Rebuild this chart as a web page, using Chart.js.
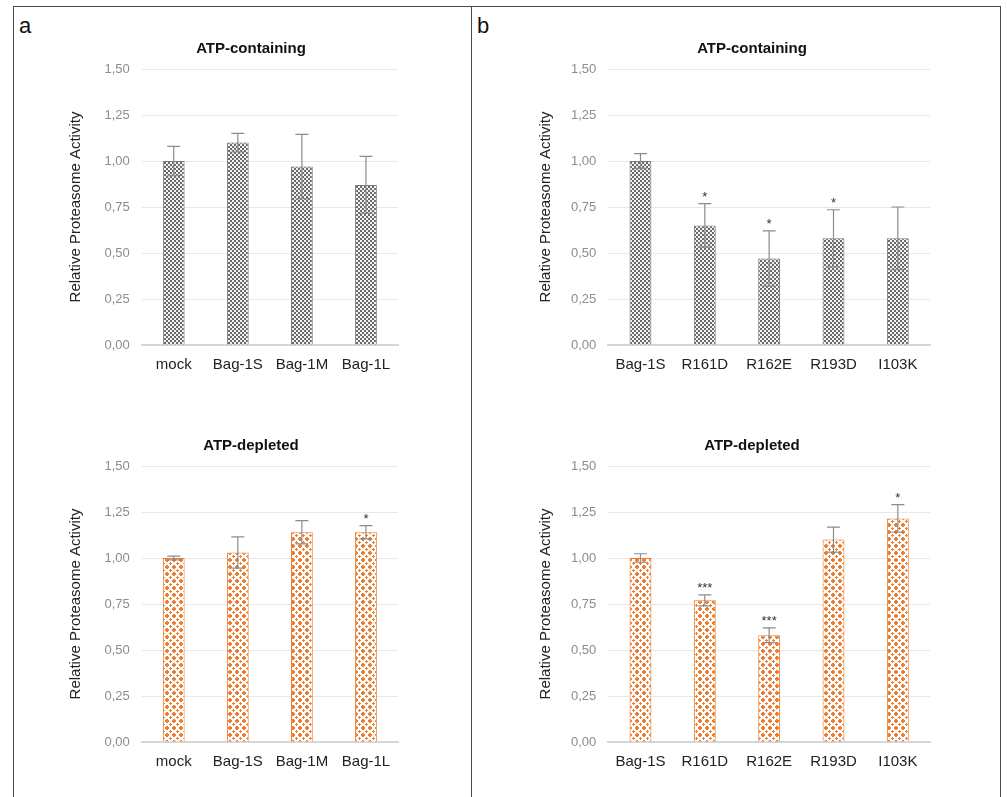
<!DOCTYPE html>
<html>
<head>
<meta charset="utf-8">
<script src="https://cdn.jsdelivr.net/npm/chart.js@4.4.1/dist/chart.umd.min.js"></script>
<style>
  body { margin: 0; background: #fff; width: 1007px; height: 797px; position: relative; overflow: hidden; font-family: "Liberation Sans", Arial, sans-serif; }
  canvas { position: absolute; }
  .rule { position: absolute; background: #4a4a4a; }
  .tag { position: absolute; font-size: 22px; line-height: 25px; color: #111; }
</style>
</head>
<body>
<div class="rule" style="left:13px;top:6px;width:988px;height:1px"></div>
<div class="rule" style="left:13px;top:6px;width:1px;height:791px"></div>
<div class="rule" style="left:1000px;top:6px;width:1px;height:791px"></div>
<div class="rule" style="left:471px;top:6px;width:1px;height:791px"></div>
<div class="tag" style="left:19px;top:13px">a</div>
<div class="tag" style="left:477px;top:13px">b</div>

<canvas id="aTop" width="400" height="360" style="left:20px;top:30px"></canvas>
<canvas id="aBottom" width="400" height="360" style="left:20px;top:427px"></canvas>
<canvas id="bTop" width="480" height="360" style="left:490px;top:30px"></canvas>
<canvas id="bBottom" width="480" height="360" style="left:490px;top:427px"></canvas>

<script>
const catsA = ['mock', 'Bag-1S', 'Bag-1M', 'Bag-1L'];
const catsB = ['Bag-1S', 'R161D', 'R162E', 'R193D', 'I103K'];

const aContaining = [1.00, 1.10, 0.97, 0.87];
const aContainingErr = [0.08, 0.05, 0.175, 0.155];
const aContainingStars = ['', '', '', ''];

const aDepleted = [1.00, 1.03, 1.14, 1.14];
const aDepletedErr = [0.01, 0.085, 0.063, 0.036];
const aDepletedStars = ['', '', '', '*'];

const bContaining = [1.00, 0.65, 0.47, 0.58, 0.58];
const bContainingErr = [0.04, 0.118, 0.15, 0.155, 0.17];
const bContainingStars = ['', '*', '*', '*', ''];

const bDepleted = [1.00, 0.77, 0.58, 1.10, 1.215];
const bDepletedErr = [0.023, 0.03, 0.04, 0.068, 0.075];
const bDepletedStars = ['', '***', '***', '', '*'];

const yTicks = [0, 0.25, 0.5, 0.75, 1, 1.25, 1.5];

Chart.defaults.font.family = '"Liberation Sans", Arial, sans-serif';

// small fill patterns like the Excel ones
function makePattern(rows, ink, paper) {
  const c = document.createElement('canvas');
  c.width = rows[0].length; c.height = rows.length;
  const g = c.getContext('2d');
  g.fillStyle = paper; g.fillRect(0, 0, c.width, c.height);
  g.fillStyle = ink;
  rows.forEach((r, y) => { for (let x = 0; x < r.length; x++) if (r[x] === 'O') g.fillRect(x, y, 1, 1); });
  return g.createPattern(c, 'repeat');
}
const grayFill = makePattern(['OO..', 'OO..', '..OO', '..OO'], '#6a6a6a', '#f2f2f2');
const orangeFill = makePattern([
  'OO...OO',
  'O.....O',
  '...O...',
  '..OOO..',
  '...O...',
  'O.....O',
  'OO...OO'
], '#ED7D31', '#ffffff');

const panelExtras = {
  id: 'panelExtras',
  afterDatasetsDraw(chart, args, opts) {
    const { ctx, scales: { x, y } } = chart;
    const vals = chart.data.datasets[0].data;
    ctx.save();
    ctx.strokeStyle = '#8c8c8c';
    ctx.lineWidth = 1.2;
    ctx.fillStyle = '#333';
    ctx.font = '13px "Liberation Sans", Arial, sans-serif';
    ctx.textAlign = 'center';
    ctx.textBaseline = 'alphabetic';
    vals.forEach((v, i) => {
      const e = opts.errors[i];
      const cx = x.getPixelForValue(i);
      const hi = y.getPixelForValue(v + e);
      const lo = y.getPixelForValue(v - e);
      ctx.beginPath();
      ctx.moveTo(cx, hi); ctx.lineTo(cx, lo);
      ctx.moveTo(cx - 6.5, hi); ctx.lineTo(cx + 6.5, hi);
      ctx.moveTo(cx - 6.5, lo); ctx.lineTo(cx + 6.5, lo);
      ctx.stroke();
      if (opts.stars[i]) ctx.fillText(opts.stars[i], cx, hi - 3);
    });
    // panel heading
    ctx.fillStyle = '#111';
    ctx.font = 'bold 15px "Liberation Sans", Arial, sans-serif';
    ctx.textBaseline = 'middle';
    ctx.fillText(opts.title, opts.titleX, 19);
    ctx.restore();
  }
};

function makePanel(id, title, titleX, labels, values, errors, stars, fill, edge, yWidth, padRight) {
  const canvas = document.getElementById(id);
  if (!canvas) return;
  new Chart(canvas.getContext('2d'), {
    type: 'bar',
    data: {
      labels: labels,
      datasets: [{
        data: values,
        backgroundColor: fill,
        borderColor: edge,
        borderWidth: 1,
        barPercentage: 0.34,
        categoryPercentage: 1
      }]
    },
    options: {
      responsive: false,
      animation: false,
      layout: { padding: { top: 39, right: padRight, bottom: 0, left: 0 } },
      plugins: {
        legend: { display: false },
        tooltip: { enabled: false },
        panelExtras: { errors: errors, stars: stars, title: title, titleX: titleX }
      },
      scales: {
        x: {
          grid: { display: false, drawTicks: false },
          border: { display: true, color: '#d6d6d6', width: 2 },
          ticks: { color: '#222', font: { size: 15 }, padding: 11 },
          afterFit: s => { s.height = 45; }
        },
        y: {
          min: 0,
          max: 1.5,
          afterBuildTicks: s => { s.ticks = yTicks.map(v => ({ value: v })); },
          grid: { color: '#e8e8e8', drawTicks: false },
          border: { display: false },
          ticks: {
            color: '#8c8c8c',
            font: { size: 13 },
            padding: 12,
            callback: v => v.toFixed(2).replace('.', ',')
          },
          title: {
            display: true,
            text: 'Relative Proteasome Activity',
            color: '#222',
            font: { size: 15 },
            padding: { top: 47, bottom: 0 }
          },
          afterFit: s => { s.width = yWidth; }
        }
      }
    },
    plugins: [panelExtras]
  });
}

makePanel('aTop', 'ATP-containing', 231, catsA, aContaining, aContainingErr, aContainingStars, grayFill, '#7a7a7a', 121.7, 22);
makePanel('aBottom', 'ATP-depleted', 231, catsA, aDepleted, aDepletedErr, aDepletedStars, orangeFill, '#ED7D31', 121.7, 22);
makePanel('bTop', 'ATP-containing', 262, catsB, bContaining, bContainingErr, bContainingStars, grayFill, '#7a7a7a', 118.3, 40);
makePanel('bBottom', 'ATP-depleted', 262, catsB, bDepleted, bDepletedErr, bDepletedStars, orangeFill, '#ED7D31', 118.3, 40);
</script>
</body>
</html>
